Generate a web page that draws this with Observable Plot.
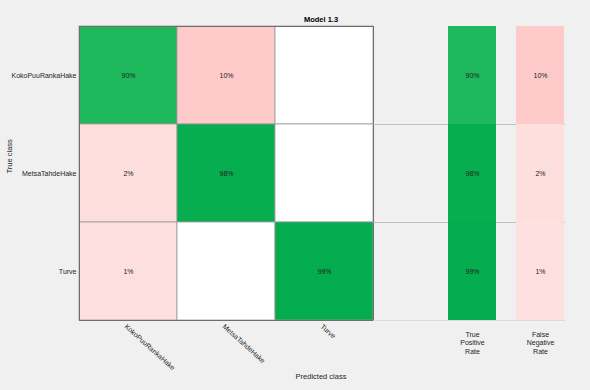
<!DOCTYPE html>
<html>
<head>
<meta charset="utf-8">
<script src="https://cdn.jsdelivr.net/npm/d3@7"></script>
<script src="https://cdn.jsdelivr.net/npm/@observablehq/plot@0.6"></script>
<style>
  html, body { margin: 0; padding: 0; background: #f0f0f0; }
  #fig { position: relative; width: 590px; height: 390px; background: #f0f0f0; font-family: "Liberation Sans", Arial, Helvetica, sans-serif; }
  #fig svg { position: absolute; left: 0; top: 0; }
  .lbl { position: absolute; left: 0; width: 642px; text-align: center; font-size: 7.5px; color: #262626; }
</style>
</head>
<body>
<div id="fig">
  <div class="lbl" style="top:15px;font-weight:bold;color:#000;">Model 1.3</div>
  <div class="lbl" style="top:372px;">Predicted class</div>
</div>
<script>
const classes = ["KokoPuuRankaHake", "MetsaTahdeHake", "Turve"];
// row-normalized percentages: rows = true class, columns = predicted class
const row1 = [90, 10, 0];
const row2 = [2, 98, 0];
const row3 = [1, 0, 99];
const tpr = [90, 98, 99];
const fnr = [10, 2, 1];
const summaryLabels = ["True\nPositive\nRate", "False\nNegative\nRate"];

const rows = [row1, row2, row3];
const cells = [];
rows.forEach((r, i) => r.forEach((v, j) => cells.push({trueClass: classes[i], predClass: classes[j], value: v, diag: i === j})));
const summary = [];
classes.forEach((c, i) => {
  summary.push({trueClass: c, col: summaryLabels[0], value: tpr[i], diag: true});
  summary.push({trueClass: c, col: summaryLabels[1], value: fnr[i], diag: false});
});

const green = d3.scaleLinear().domain([0, 90, 100]).range(["#ffffff", "#1db95c", "#00ab4c"]).clamp(true);
const red = d3.scaleLinear().domain([0, 1, 2, 10]).range(["#ffffff", "#ffe0e0", "#ffdede", "#ffcaca"]).clamp(true);
const fillOf = d => d.value === 0 ? "#ffffff" : (d.diag ? green(d.value) : red(d.value));

const W = 590, H = 390;
const font = {fontFamily: "Liberation Sans, Arial, Helvetica, sans-serif", fontSize: 7, color: "#262626"};

const main = Plot.plot({
  width: W, height: H,
  marginLeft: 79, marginTop: 26, marginRight: 217, marginBottom: 70,
  style: {background: "transparent", ...font},
  x: {domain: classes, padding: 0, axis: null},
  y: {domain: classes, padding: 0, axis: null},
  marks: [
    Plot.cell(cells, {x: "predClass", y: "trueClass", fill: fillOf, stroke: "#9a9a9a", strokeWidth: 0.8}),
    Plot.text(cells.filter(d => d.value > 0), {x: "predClass", y: "trueClass", text: d => d.value + "%", fill: "#222", fontSize: 7}),
    Plot.frame({stroke: "#6e6e6e", strokeWidth: 1}),
    Plot.axisY({domain: classes, tickSize: 0, tickPadding: 3, label: null, fill: "#262626", fontSize: 7}),
    Plot.axisX({tickSize: 0, tickPadding: 5, tickRotate: 42, dx: -3, label: null, fill: "#262626", fontSize: 7}),
    Plot.text(["True class"], {frameAnchor: "left", dx: -70, rotate: -90, text: d => d, fontSize: 7.5, fill: "#262626"})
  ]
});

const side = Plot.plot({
  width: W, height: H,
  marginLeft: 373, marginTop: 26, marginRight: 25, marginBottom: 70,
  style: {background: "transparent", ...font},
  x: {domain: summaryLabels, range: [447, 564], paddingInner: 0.3, paddingOuter: 0, axis: null},
  y: {domain: classes, padding: 0, axis: null},
  marks: [
    Plot.ruleY(classes.slice(1), {y: d => d, dy: -49, stroke: "#b4b4b4", strokeWidth: 0.8}),
    Plot.ruleY(classes.slice(-1), {y: d => d, dy: 49, stroke: "#d4d4d4", strokeWidth: 0.8}),
    Plot.cell(summary, {x: "col", y: "trueClass", fill: fillOf}),
    Plot.text(summary, {x: "col", y: "trueClass", text: d => d.value + "%", fill: "#222", fontSize: 7}),
    Plot.axisX({tickSize: 0, tickPadding: 10, label: null, fill: "#262626", fontSize: 7, lineHeight: 1.25})
  ]
});

const fig = document.getElementById("fig");
fig.insertBefore(main, fig.firstChild);
fig.insertBefore(side, main.nextSibling);
</script>
</body>
</html>
